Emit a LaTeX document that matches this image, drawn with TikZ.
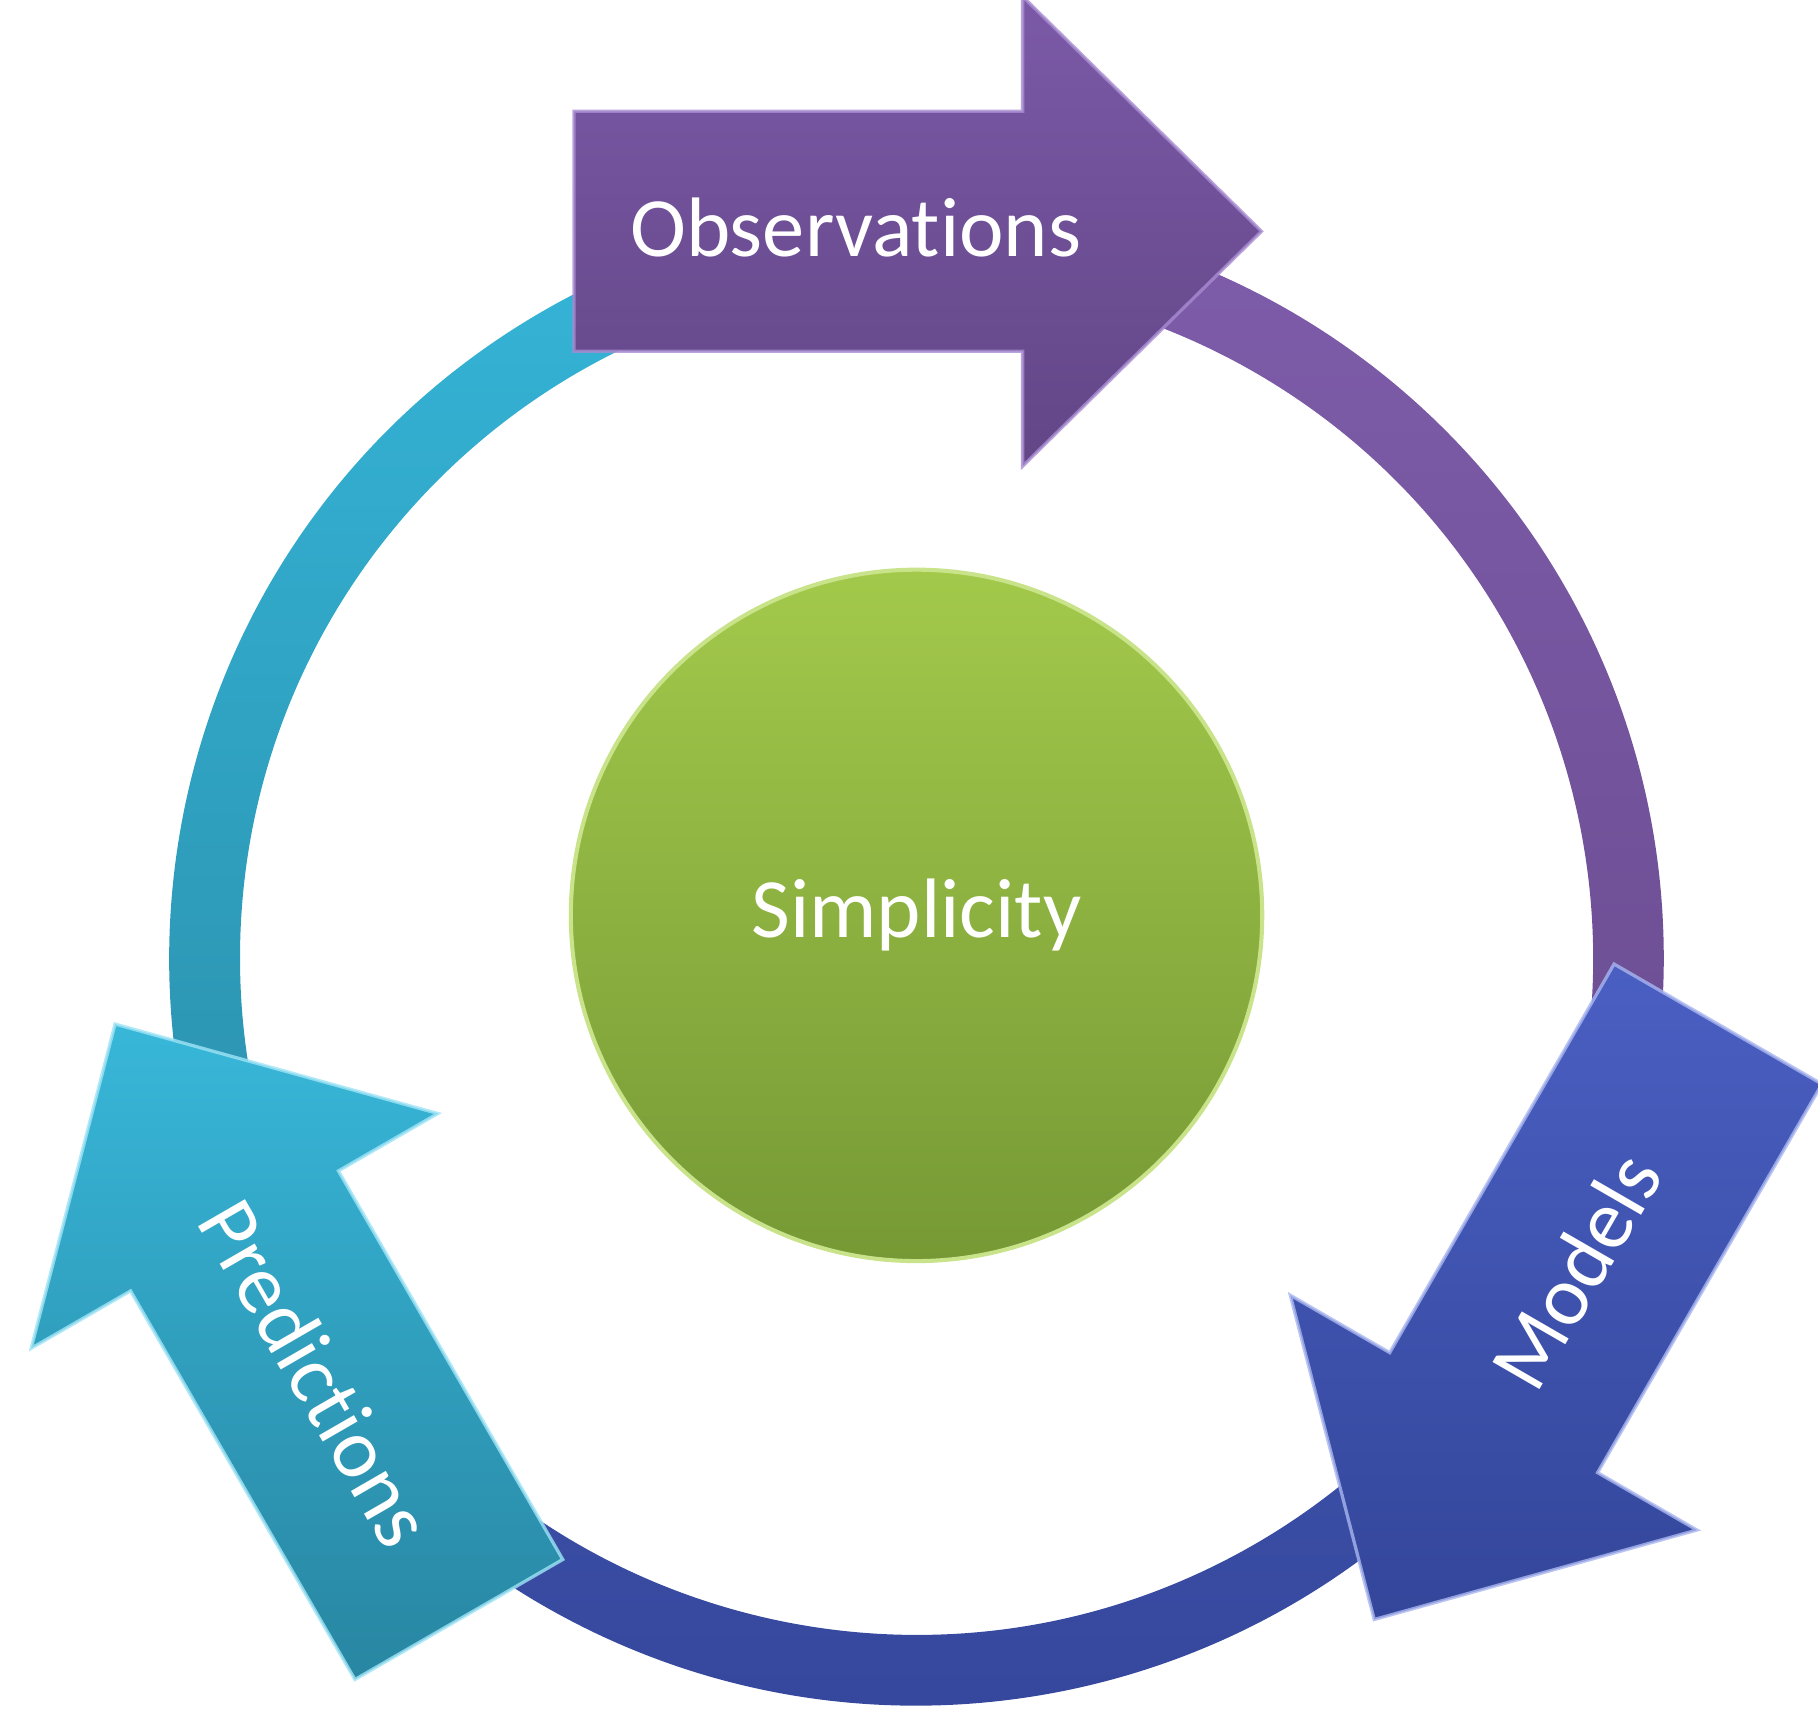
\documentclass[tikz,border=0pt]{standalone}
\usepackage{fontspec}
\setmainfont{Carlito}[Ligatures=NoCommon]
\usetikzlibrary{calc}
\definecolor{obsT}{HTML}{7B59A7}
\definecolor{obsB}{HTML}{624686}
\definecolor{obsE}{HTML}{A88CD2}
\definecolor{modT}{HTML}{4A5FC2}
\definecolor{modB}{HTML}{33469A}
\definecolor{modE}{HTML}{A9B6F0}
\definecolor{preT}{HTML}{38B7D9}
\definecolor{preB}{HTML}{2886A2}
\definecolor{preE}{HTML}{9FE4F6}
\definecolor{rngPT}{HTML}{7E5CAA}
\definecolor{rngPB}{HTML}{684B8E}
\definecolor{rngBT}{HTML}{3E52AA}
\definecolor{rngBB}{HTML}{33459A}
\definecolor{rngCT}{HTML}{35B5D8}
\definecolor{rngCB}{HTML}{2A8DA9}
\definecolor{grnT}{HTML}{A3C94B}
\definecolor{grnB}{HTML}{769935}
\definecolor{grnE}{HTML}{C8E38A}
\newcommand\cycArrow[3]{%
  \begin{scope}[shift={#1},rotate=#2]
    \shade[top color=#3T,bottom color=#3B,draw=#3E,draw opacity=0.8,line width=0.8pt,line join=miter]
      (-296.5,-103.5) -- (90.5,-103.5) -- (90.5,-202.5) -- (296.5,0)
      -- (90.5,202.5) -- (90.5,103.5) -- (-296.5,103.5) -- cycle;
  \end{scope}}
\newcommand\ringSeg[4]{%
  \shade[top color=#3,bottom color=#4]
    ($(rc)+(#1:644.5)$) arc[start angle=#1,end angle=#2,radius=644.5]
    -- ($(rc)+(#2:583.5)$) arc[start angle=#2,end angle=#1,radius=583.5] -- cycle;}
\begin{document}
\begin{tikzpicture}[x=0.01cm,y=-0.01cm,
  lbl/.style={text=white,font=\fontsize{20.7}{25}\selectfont,inner sep=0pt}]
\useasboundingbox (0,0) rectangle (1568,1485.2);
\clip (0,0) rectangle (1568,1485.2);
\coordinate (rc) at (790.5,826.5);
% ring
\ringSeg{-90}{30}{rngPT}{rngPB}
\ringSeg{30}{150}{rngBT}{rngBB}
\ringSeg{150}{270}{rngCT}{rngCB}
% arrows
\cycArrow{(791.5,199.5)}{0}{obs}
\cycArrow{(1333.5,1140)}{-120}{mod}
\cycArrow{(247.5,1140)}{120}{pre}
% labels
\node[lbl] (obs) at (738,196) {Observations};
\node[lbl,rotate=60] (mod) at (1359,1096) {Models};
\node[lbl,rotate=-60] (pre) at (273,1184) {Predictions};
% centre
\node[circle,minimum size=5.96cm,inner sep=0pt,top color=grnT,bottom color=grnB,
  draw=grnE,line width=1pt,text=white,font=\fontsize{20.7}{25}\selectfont]
  (simp) at (790.5,789.5) {Simplicity};
\end{tikzpicture}
\end{document}
